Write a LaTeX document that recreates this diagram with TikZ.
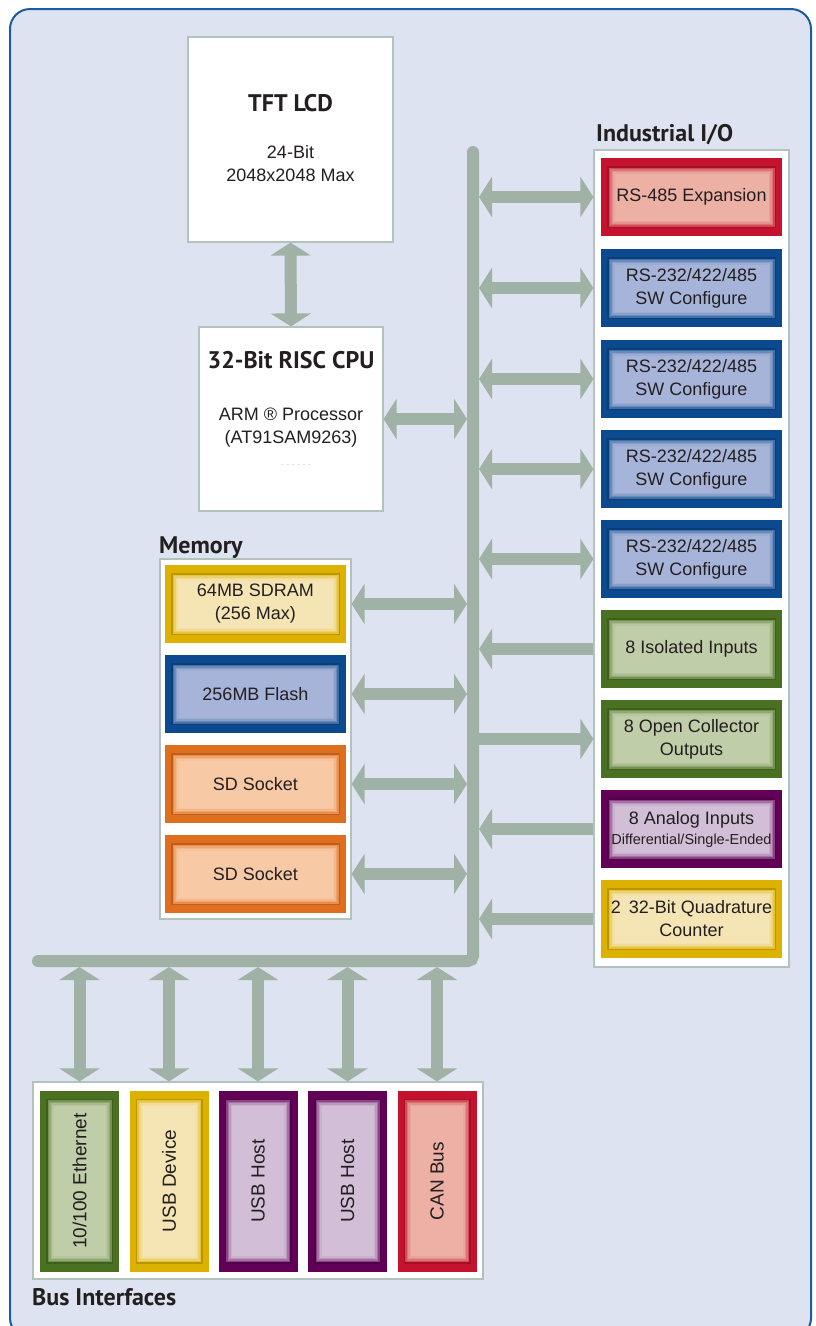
\documentclass[tikz,border=0pt]{standalone}
\usepackage{fontspec}
\usepackage{graphicx}
\setmainfont{Liberation Sans}
\newfontfamily\headfont{PT Sans}
\usetikzlibrary{arrows.meta}
\definecolor{bg}{HTML}{DDE3F0}
\definecolor{frame}{HTML}{1A5C9E}
\definecolor{busc}{HTML}{A0B2A6}
\definecolor{panelb}{HTML}{B3C3BC}
\definecolor{txt}{HTML}{231F20}
\definecolor{redD}{HTML}{C4122F}\definecolor{redL}{HTML}{ECB0A5}
\definecolor{bluD}{HTML}{0B4A8E}\definecolor{bluL}{HTML}{A7B4D9}
\definecolor{grnD}{HTML}{4A7021}\definecolor{grnL}{HTML}{BFCDA9}
\definecolor{purD}{HTML}{620057}\definecolor{purL}{HTML}{D2BED6}
\definecolor{yelD}{HTML}{DDB100}\definecolor{yelL}{HTML}{F5E5B5}
\definecolor{orgD}{HTML}{E06E1F}\definecolor{orgL}{HTML}{F8C9A5}
\newcommand\bodyf{\fontsize{18}{23}\selectfont}
\newcommand\smallbodyf{\fontsize{14.5}{18}\selectfont}
\newcommand\headf{\headfont\bfseries\fontsize{24}{28}\selectfont}
\newcommand\rotf{\fontsize{19}{21}\selectfont}
\tikzset{
  panel/.style={draw=panelb, line width=1.2pt, fill=white, inner sep=0pt},
  cbox/.style 2 args={inner sep=0pt, fill=#1, align=center, text=txt, font=\bodyf,
    path picture={
      \fill[#1!85!black] ([shift={(6pt,8pt)}]path picture bounding box.south west) rectangle ([shift={(-6pt,-8pt)}]path picture bounding box.north east);
      \fill[#1!65!#2] ([shift={(7.5pt,9.5pt)}]path picture bounding box.south west) rectangle ([shift={(-7.5pt,-9.5pt)}]path picture bounding box.north east);
      \fill[#1!40!#2] ([shift={(9pt,11pt)}]path picture bounding box.south west) rectangle ([shift={(-9pt,-11pt)}]path picture bounding box.north east);
      \fill[#1!20!#2] ([shift={(10.5pt,12.5pt)}]path picture bounding box.south west) rectangle ([shift={(-10.5pt,-12.5pt)}]path picture bounding box.north east);
      \fill[#1!7!#2] ([shift={(12pt,14pt)}]path picture bounding box.south west) rectangle ([shift={(-12pt,-14pt)}]path picture bounding box.north east);
      \fill[#2] ([shift={(13.5pt,15.5pt)}]path picture bounding box.south west) rectangle ([shift={(-13.5pt,-15.5pt)}]path picture bounding box.north east);
    }},
  hbox/.style={minimum width=181pt, minimum height=78pt},
  vbox/.style={minimum width=79pt, minimum height=181pt, font=\rotf},
  arrdbl/.style={draw=busc, line width=12pt, arrows={Triangle[width=40pt,length=13pt]-Triangle[width=40pt,length=13pt]}},
  arrleft/.style={draw=busc, line width=12pt, arrows={Triangle[width=40pt,length=13pt]-}},
  arrright/.style={draw=busc, line width=12pt, arrows={-Triangle[width=40pt,length=13pt]}},
  busline/.style={draw=busc, line width=12pt, line cap=round, rounded corners=5pt},
  head/.style={font=\headf, text=txt, inner sep=0pt},
  body/.style={font=\bodyf, text=txt, align=center, inner sep=0pt}
}
\begin{document}
\begin{tikzpicture}[x=1pt,y=-1pt]
\useasboundingbox (0,0) rectangle (815,1326);
\fill[white] (0,0) rectangle (815,1326);
\draw[frame, line width=2pt, fill=bg, rounded corners=20pt] (10,9) rectangle (811,1338);

% bus
\coordinate (bustop) at (473,152);
\coordinate (buscorner) at (473,961);
\coordinate (busend) at (38,961);
\coordinate (busW) at (467,0);
\coordinate (busE) at (479,0);
\coordinate (busS) at (0,967);
\draw[busline] (bustop) -- (buscorner) -- (busend);

% LCD and CPU
\node[panel, minimum width=205pt, minimum height=205pt] (lcd) at (290.5,139.5) {};
\node[head] (lcdt) at (290.5,103) {TFT LCD};
\node[body] (lcds) at (290.5,164) {24-Bit\\2048x2048 Max};
\node[panel, minimum width=184pt, minimum height=184pt] (cpu) at (291,419) {};
\node[head] (cput) at (291,360) {32-Bit RISC CPU};
\node[body] (cpus) at (291,428) {ARM ® Processor\\(AT91SAM9263)};
\node[text=black!18, font=\fontsize{9}{9}\selectfont, inner sep=0pt] (cpud) at (296,466) {- - - - - -};

% Industrial I/O
\node[head, anchor=west] (iot) at (596,135) {Industrial I/O};
\node[panel, minimum width=195pt, minimum height=817pt] (iop) at (691.5,558.5) {};
\node[cbox={redD}{redL}, hbox] (io1) at (691.5,197) {RS-485 Expansion};
\node[cbox={bluD}{bluL}, hbox] (io2) at (691.5,288) {RS-232/422/485\\SW Configure};
\node[cbox={bluD}{bluL}, hbox] (io3) at (691.5,379) {RS-232/422/485\\SW Configure};
\node[cbox={bluD}{bluL}, hbox] (io4) at (691.5,469) {RS-232/422/485\\SW Configure};
\node[cbox={bluD}{bluL}, hbox] (io5) at (691.5,559) {RS-232/422/485\\SW Configure};
\node[cbox={grnD}{grnL}, hbox] (io6) at (691.5,649) {8 Isolated Inputs};
\node[cbox={grnD}{grnL}, hbox] (io7) at (691.5,739) {8 Open Collector\\Outputs};
\node[cbox={purD}{purL}, hbox] (io8) at (691.5,829) {8 Analog Inputs\\[-3pt]{\smallbodyf Differential/Single-Ended}};
\node[cbox={yelD}{yelL}, hbox] (io9) at (691.5,919) {2\, 32-Bit Quadrature\\Counter};

% Memory
\node[head, anchor=west] (memt) at (159,548) {Memory};
\node[panel, minimum width=191pt, minimum height=360pt] (memp) at (255.5,739) {};
\node[cbox={yelD}{yelL}, hbox] (m1) at (255.5,604) {64MB SDRAM\\(256 Max)};
\node[cbox={bluD}{bluL}, hbox] (m2) at (255.5,694) {256MB Flash};
\node[cbox={orgD}{orgL}, hbox] (m3) at (255.5,784) {SD Socket};
\node[cbox={orgD}{orgL}, hbox] (m4) at (255.5,874) {SD Socket};

% Bus interfaces
\node[panel, minimum width=450pt, minimum height=197pt] (bip) at (258,1180.5) {};
\node[head, anchor=west] (bit) at (32,1297) {Bus Interfaces};
\node[cbox={grnD}{grnL}, vbox] (b1) at (79.5,1181) {\rotatebox{90}{10/100 Ethernet}};
\node[cbox={yelD}{yelL}, vbox] (b2) at (169,1181) {\rotatebox{90}{USB Device}};
\node[cbox={purD}{purL}, vbox] (b3) at (258,1181) {\rotatebox{90}{USB Host}};
\node[cbox={purD}{purL}, vbox] (b4) at (347.5,1181) {\rotatebox{90}{USB Host}};
\node[cbox={redD}{redL}, vbox] (b5) at (437,1181) {\rotatebox{90}{CAN Bus}};

% connectors
\draw[arrdbl] (lcd.south) -- (cpu.north);
\draw[arrdbl] (cpu.east) -- (busW |- cpu.east);
\foreach \m in {m1,m2,m3,m4} \draw[arrdbl] (memp.east |- \m) -- (busW |- \m);
\foreach \i in {io1,io2,io3,io4,io5} \draw[arrdbl] (busE |- \i) -- (iop.west |- \i);
\foreach \i in {io6,io8,io9} \draw[arrleft] (busE |- \i) -- (iop.west |- \i);
\draw[arrright] (bustop |- io7) -- (iop.west |- io7);
\foreach \b in {b1,b2,b3,b4,b5} \draw[arrdbl] (busS -| \b) -- (bip.north -| \b);
\end{tikzpicture}
\end{document}
